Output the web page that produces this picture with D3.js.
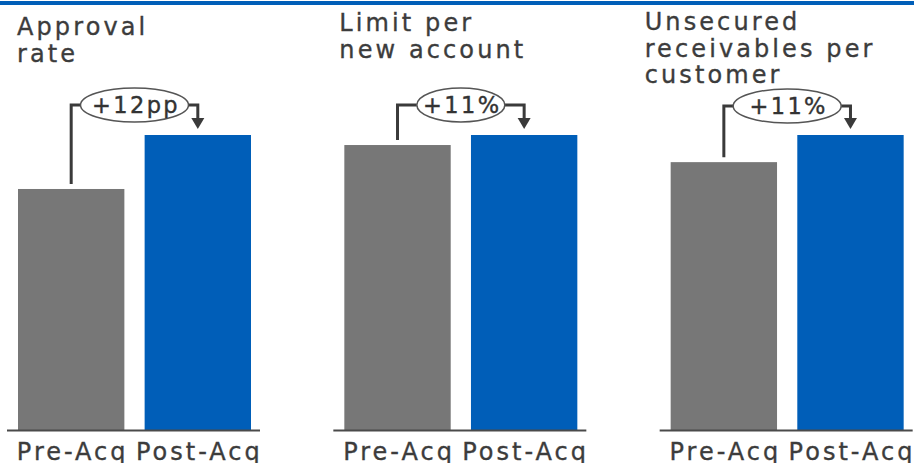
<!DOCTYPE html>
<html><head><meta charset="utf-8">
<script src="https://cdn.jsdelivr.net/npm/d3@7"></script>
<style>
html,body{margin:0;padding:0;background:#fff;}
svg{display:block;}
text{font-family:"DejaVu Sans",sans-serif;}
</style></head>
<body>
<svg id="chart" width="914" height="463"></svg>
<script>
// ---- data ----
const panelTitles = [["Approval","rate"],["Limit per","new account"],["Unsecured","receivables per","customer"]];
const categories = ["Pre-Acq","Post-Acq"];
const preValues  = [81.7, 96.6, 90.8];   // indexed to Post-Acq = 100
const postValues = [100, 100, 100];
const changeLabels = ["+12pp","+11%","+11%"];

// ---- layout ----
const W = 914, H = 463;
const svg = d3.select("#chart");
const blue = "#005EB8", grey = "#777777", ink = "#3a3a3a", textCol = "#3c3c3c";

svg.append("rect").attr("x",0).attr("y",1).attr("width",W).attr("height",4).attr("fill",blue);

const panel = d3.scaleBand().domain(d3.range(panelTitles.length)).range([18, 997]).paddingInner(0);
const xIn = d3.scaleBand().domain(categories).range([0, 233]).paddingInner(0.16).paddingOuter(0);
const y = d3.scaleLinear().domain([0, 100]).range([430, 135]);

const titleTop = [35, 31, 30];
const titleDx = [0, -4, -25];
const ellipseRx = [54, 44, 54];

panelTitles.forEach((lines, i) => {
  const g = svg.append("g").attr("transform", `translate(${panel(i)},0)`);
  const vals = [preValues[i], postValues[i]];

  // title
  const t = g.append("text").attr("fill", textCol)
    .attr("stroke", textCol).attr("stroke-width", 0.35)
    .style("font-size","24px").style("letter-spacing","3.1px");
  lines.forEach((l, j) => t.append("tspan").attr("x", titleDx[i] - 1).attr("y", titleTop[i] + j*26.5).text(l));

  // bars
  g.selectAll("rect.bar").data(categories).join("rect")
    .attr("x", d => xIn(d)).attr("width", xIn.bandwidth())
    .attr("y", (d,k) => y(vals[k])).attr("height", (d,k) => y(0) - y(vals[k]))
    .attr("fill", (d,k) => k === 0 ? grey : blue);

  // baseline
  g.append("line").attr("x1", -11).attr("x2", 242).attr("y1", 430.5).attr("y2", 430.5)
    .attr("stroke", "#4a4a4a").attr("stroke-width", 2);

  // category labels
  g.selectAll("text.cat").data(categories).join("text")
    .attr("x", d => xIn(d) + xIn.bandwidth()/2 + 1.5).attr("y", 460)
    .attr("text-anchor","middle").attr("fill", textCol)
    .attr("stroke", textCol).attr("stroke-width", 0.35)
    .style("font-size","24px").style("letter-spacing","3px")
    .text(d => d);

  // annotation connector
  const xa = xIn(categories[0]) + xIn.bandwidth()/2;
  const xb = xIn(categories[1]) + xIn.bandwidth()/2;
  const xc = (xa + xb)/2;
  const yc = 105 + (i === 2 ? 1 : 0);
  const rx = ellipseRx[i], ry = 17;
  g.append("path")
    .attr("d", `M${xa},${y(vals[0]) - 5}V${yc}H${xc - rx}`)
    .attr("fill","none").attr("stroke", ink).attr("stroke-width", 3);
  g.append("path")
    .attr("d", `M${xc + rx},${yc}H${xb}V${119}`)
    .attr("fill","none").attr("stroke", ink).attr("stroke-width", 3);
  g.append("path")
    .attr("d", `M${xb-6.5},${118}L${xb+6.5},${118}L${xb},${129}Z`)
    .attr("fill", ink);
  g.append("ellipse").attr("cx", xc).attr("cy", yc).attr("rx", rx).attr("ry", ry)
    .attr("fill","#fff").attr("stroke","#555").attr("stroke-width",1.5);
  g.append("text").attr("x", xc + 1.5).attr("y", yc + 8).attr("text-anchor","middle")
    .attr("fill","#333").attr("stroke","#333").attr("stroke-width",0.4)
    .style("font-size","22.5px").style("letter-spacing","2.4px")
    .text(changeLabels[i]);
});
</script>
</body></html>
